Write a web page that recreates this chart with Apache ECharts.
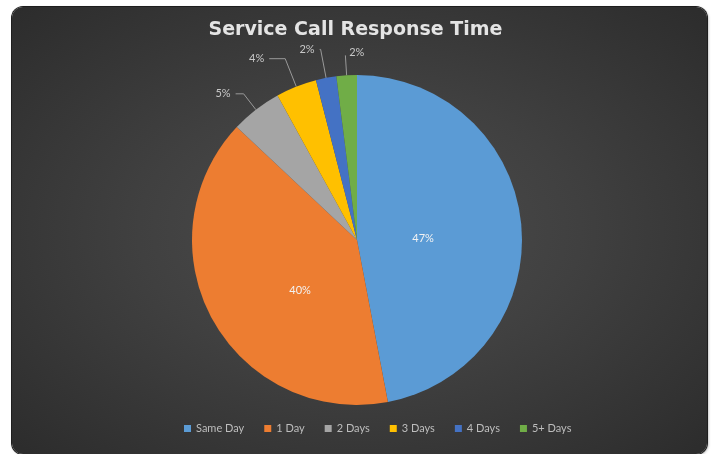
<!DOCTYPE html>
<html>
<head>
<meta charset="utf-8">
<script src="https://cdn.jsdelivr.net/npm/echarts@6/dist/echarts.min.js"></script>
<style>
html,body{margin:0;padding:0;background:#fff;width:711px;height:454px;overflow:hidden;}
#bg{position:absolute;left:12px;top:7px;width:695px;height:447px;border-radius:11px;
background:radial-gradient(ellipse at 50% 50%, #4e4e4e 0%, #404040 45%, #2c2c2c 100%);
box-shadow:0 0 0 1px #1e1e1e, 1px 1px 3px rgba(0,0,0,0.4);}
#chart{position:absolute;left:0;top:0;width:711px;height:454px;}
</style>
</head>
<body>
<div id="bg"></div>
<div id="chart"></div>
<script>
const titleText = 'Service Call Response Time';
const categories = ['Same Day', '1 Day', '2 Days', '3 Days', '4 Days', '5+ Days'];
const values = [47, 40, 5, 4, 2, 2];
const colors = ['#5b9bd5', '#ed7d31', '#a5a5a5', '#ffc000', '#4472c4', '#70ad47'];
const insideCount = 2;
// label line lengths for the small outside slices [length, length2]
const lineLengths = [null, null, [20, 8], [30, 16], [29, 1], [20, 0]];
// small nudges of the label text (not of the marks)
const labelNudge = [[-19, 6], [18, 9], [0, 0], [0, 0], [0, 0], [24, -3]];

const chart = echarts.init(document.getElementById('chart'), null, {renderer: 'canvas'});
const data = categories.map((c, i) => {
  const inside = i < insideCount;
  const item = {
    name: c,
    value: values[i],
    itemStyle: {color: colors[i]},
    label: inside
      ? {position: 'inside', color: '#f2f2f2', fontSize: 11}
      : {position: 'outside', color: '#c8c8c8', fontSize: 11},
    labelLine: {show: !inside}
  };
  if (!inside) {
    item.labelLine.length = lineLengths[i][0];
    item.labelLine.length2 = lineLengths[i][1];
  }
  return item;
});
chart.setOption({
  backgroundColor: 'transparent',
  animation: false,
  title: {
    text: titleText, left: 'center', top: 16,
    textStyle: {color: '#e4e4e4', fontSize: 19, fontWeight: 'bold', fontFamily: 'DejaVu Sans'}
  },
  legend: {
    bottom: 15, left: 179, itemWidth: 7, itemHeight: 7, itemGap: 20, icon: 'rect',
    textStyle: {color: '#bdbdbd', fontSize: 11, fontFamily: 'Lato'},
    data: categories
  },
  series: [{
    type: 'pie',
    center: [357, 240],
    radius: [0, 165],
    startAngle: 90,
    clockwise: true,
    avoidLabelOverlap: false,
    data: data,
    label: {formatter: '{d}%', fontFamily: 'Lato'},
    labelLine: {lineStyle: {color: '#9a9a9a', width: 1}},
    labelLayout: function (p) {
      const n = labelNudge[p.dataIndex];
      if (!n[0] && !n[1]) return {};
      return {dx: n[0], dy: n[1]};
    }
  }]
});
</script>
</body>
</html>
